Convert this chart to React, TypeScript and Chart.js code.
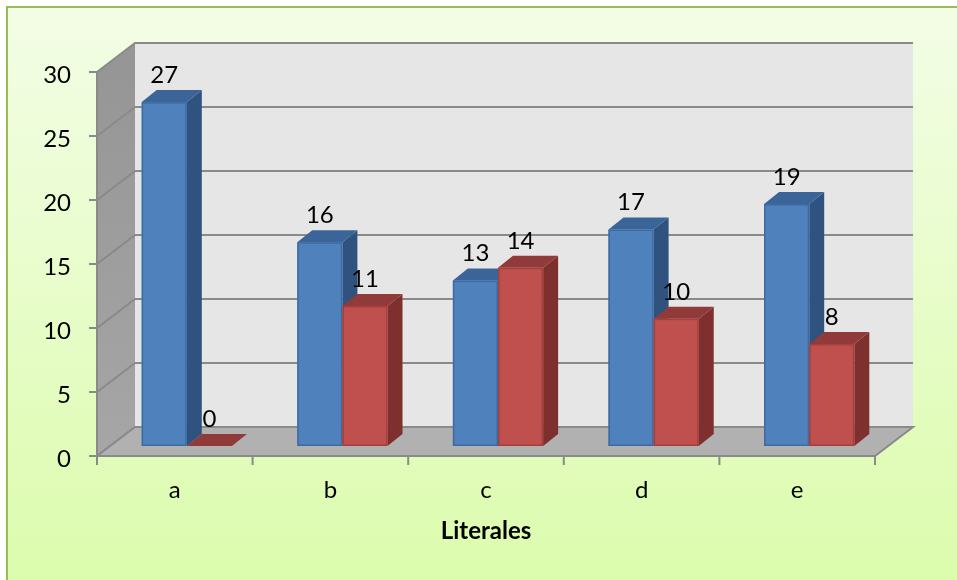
import React, { useEffect, useRef } from "react";
import { Chart, registerables } from "chart.js";

Chart.register(...registerables);

const categories = ["a", "b", "c", "d", "e"];
const seriesBlue = [27, 16, 13, 17, 19];
const seriesRed = [0, 11, 14, 10, 8];
const yTicks = [0, 5, 10, 15, 20, 25, 30];
const axisTitle = "Literales";

const FONT = "Lato, 'Open Sans', sans-serif";
const WALL = { dx: 38, dy: -29 };
const BAR_OFF = { dx: 12, dy: -10 };
const BAR_DEPTH = { dx: 15, dy: -12 };

const barColors = [
  { front: "#4f81bd", stroke: "#3d6ba3", side: "#30527f", top: "#3b6498" },
  { front: "#c0504d", stroke: "#a3403d", side: "#7e302f", top: "#903b39" },
];

const scenePlugin = {
  id: "scene3d",
  beforeDraw(chart: any) {
    const ctx = chart.ctx as CanvasRenderingContext2D;
    const W = chart.width;
    const H = chart.height;
    ctx.save();
    ctx.fillStyle = "#ffffff";
    ctx.fillRect(0, 0, W, H);
    const g = ctx.createLinearGradient(0, 7, 0, H);
    g.addColorStop(0, "#f3fde6");
    g.addColorStop(1, "#dcfcad");
    ctx.fillStyle = g;
    ctx.fillRect(7, 7, W, H);
    ctx.strokeStyle = "#9bbb59";
    ctx.lineWidth = 2;
    ctx.beginPath();
    ctx.moveTo(7, H + 5);
    ctx.lineTo(7, 7);
    ctx.lineTo(W + 5, 7);
    ctx.stroke();
    ctx.restore();
  },
  beforeDatasetsDraw(chart: any) {
    const ctx = chart.ctx as CanvasRenderingContext2D;
    const ys = chart.scales.y;
    const xs = chart.scales.x;
    const { left, right } = chart.chartArea;
    const yTop = ys.getPixelForValue(yTicks[yTicks.length - 1]);
    const yBot = ys.getPixelForValue(0);
    ctx.save();
    // side wall
    const sg = ctx.createLinearGradient(0, yTop, 0, yBot);
    sg.addColorStop(0, "#969696");
    sg.addColorStop(1, "#a6a6a6");
    ctx.fillStyle = sg;
    ctx.beginPath();
    ctx.moveTo(left, yTop);
    ctx.lineTo(left + WALL.dx, yTop + WALL.dy);
    ctx.lineTo(left + WALL.dx, yBot + WALL.dy);
    ctx.lineTo(left, yBot);
    ctx.closePath();
    ctx.fill();
    // back wall
    ctx.fillStyle = "#e6e6e6";
    ctx.fillRect(left + WALL.dx, yTop + WALL.dy, right - left, yBot - yTop);
    // gridlines
    ctx.strokeStyle = "#8a8a8a";
    ctx.lineWidth = 2;
    for (const v of yTicks) {
      const py = ys.getPixelForValue(v);
      ctx.beginPath();
      ctx.moveTo(left, py);
      ctx.lineTo(left + WALL.dx, py + WALL.dy);
      ctx.lineTo(right + WALL.dx, py + WALL.dy);
      ctx.stroke();
    }
    // floor
    ctx.fillStyle = "#b1b1b1";
    ctx.beginPath();
    ctx.moveTo(left, yBot);
    ctx.lineTo(right, yBot);
    ctx.lineTo(right + WALL.dx, yBot + WALL.dy);
    ctx.lineTo(left + WALL.dx, yBot + WALL.dy);
    ctx.closePath();
    ctx.fill();
    ctx.strokeStyle = "#8a8a8a";
    ctx.lineWidth = 2;
    ctx.stroke();
    // y ticks + labels
    ctx.strokeStyle = "#8a8a8a";
    ctx.lineWidth = 2;
    ctx.fillStyle = "#000";
    ctx.font = `24px ${FONT}`;
    ctx.textAlign = "right";
    ctx.textBaseline = "alphabetic";
    ctx.beginPath();
    ctx.moveTo(left, yTop);
    ctx.lineTo(left, yBot + 1);
    ctx.stroke();
    for (const v of yTicks) {
      const py = ys.getPixelForValue(v);
      ctx.beginPath();
      ctx.moveTo(left - 8, py);
      ctx.lineTo(left, py);
      ctx.stroke();
      ctx.fillText(String(v), left - 26, py + 11);
    }
    // x ticks + labels
    const n = categories.length;
    const cw = (xs.getPixelForValue(n - 1) - xs.getPixelForValue(0)) / (n - 1);
    ctx.textAlign = "center";
    ctx.beginPath();
    ctx.moveTo(left, yBot);
    ctx.lineTo(right, yBot);
    ctx.stroke();
    for (let i = 0; i <= n; i++) {
      const px = xs.getPixelForValue(0) - cw / 2 + i * cw;
      ctx.beginPath();
      ctx.moveTo(px, yBot);
      ctx.lineTo(px, yBot + 9);
      ctx.stroke();
    }
    categories.forEach((c, i) => {
      ctx.fillText(c, xs.getPixelForValue(i), yBot + 42);
    });
    ctx.font = `bold 24px ${FONT}`;
    ctx.fillText(axisTitle, (left + right) / 2, yBot + 83);
    ctx.restore();
  },
  afterDatasetsDraw(chart: any) {
    const ctx = chart.ctx as CanvasRenderingContext2D;
    ctx.save();
    const boxes: any[] = [];
    const n = categories.length;
    for (let i = 0; i < n; i++) {
      chart.data.datasets.forEach((ds: any, di: number) => {
        const meta = chart.getDatasetMeta(di);
        const el = meta.data[i];
        if (!el) return;
        const p = el.getProps(["x", "y", "base", "width"], true);
        const c = barColors[di];
        const x0 = p.x - p.width / 2 + BAR_OFF.dx;
        const x1 = p.x + p.width / 2 + BAR_OFF.dx;
        const yt = p.y + BAR_OFF.dy;
        const yb = p.base + BAR_OFF.dy;
        const dx = BAR_DEPTH.dx;
        const dy = BAR_DEPTH.dy;
        // side
        ctx.fillStyle = c.side;
        ctx.beginPath();
        ctx.moveTo(x1, yt);
        ctx.lineTo(x1 + dx, yt + dy);
        ctx.lineTo(x1 + dx, yb + dy);
        ctx.lineTo(x1, yb);
        ctx.closePath();
        ctx.fill();
        // top
        ctx.fillStyle = c.top;
        ctx.beginPath();
        ctx.moveTo(x0, yt);
        ctx.lineTo(x0 + dx, yt + dy);
        ctx.lineTo(x1 + dx, yt + dy);
        ctx.lineTo(x1, yt);
        ctx.closePath();
        ctx.fill();
        // front
        if (yb - yt > 0.5) {
          ctx.fillStyle = c.front;
          ctx.fillRect(x0, yt, x1 - x0, yb - yt);
          ctx.strokeStyle = c.stroke;
          ctx.lineWidth = 1.5;
          ctx.strokeRect(x0 + 0.75, yt + 0.75, x1 - x0 - 1.5, yb - yt - 1.5);
        }
        boxes.push({ cx: (x0 + x1) / 2, yt, v: ds.data[i] });
      });
    }
    ctx.fillStyle = "#000";
    ctx.font = `24px ${FONT}`;
    ctx.textAlign = "center";
    ctx.textBaseline = "alphabetic";
    for (const b of boxes) {
      ctx.fillText(String(b.v), b.cx, b.yt - 19);
    }
    ctx.restore();
  },
};

export default function App() {
  const ref = useRef<HTMLCanvasElement | null>(null);
  useEffect(() => {
    if (!ref.current) return;
    const chart = new Chart(ref.current, {
      type: "bar",
      data: {
        labels: categories,
        datasets: [
          {
            label: "Serie 1",
            data: seriesBlue,
            yAxisID: "yb",
            backgroundColor: "rgba(0,0,0,0)",
            borderWidth: 0,
            categoryPercentage: 0.58,
            barPercentage: 1,
          },
          {
            label: "Serie 2",
            data: seriesRed,
            yAxisID: "yb",
            backgroundColor: "rgba(0,0,0,0)",
            borderWidth: 0,
            categoryPercentage: 0.58,
            barPercentage: 1,
          },
        ],
      },
      options: {
        responsive: false,
        animation: false,
        layout: { padding: { left: 97, right: 82, top: 72, bottom: 124 } },
        plugins: {
          legend: { display: false },
          title: { display: false },
          tooltip: { enabled: false },
        },
        scales: {
          x: { type: "category", display: false, offset: true },
          y: { type: "linear", display: false, min: 0, max: 30, ticks: { stepSize: 5 } },
          yb: { type: "linear", display: false, min: 0, max: 30.15 },
        },
      },
      plugins: [scenePlugin],
    });
    return () => chart.destroy();
  }, []);
  return (
    <div style={{ position: "absolute", left: 0, top: 0, width: 957, height: 580 }}>
      <canvas ref={ref} width={957} height={580} style={{ display: "block" }} />
    </div>
  );
}
